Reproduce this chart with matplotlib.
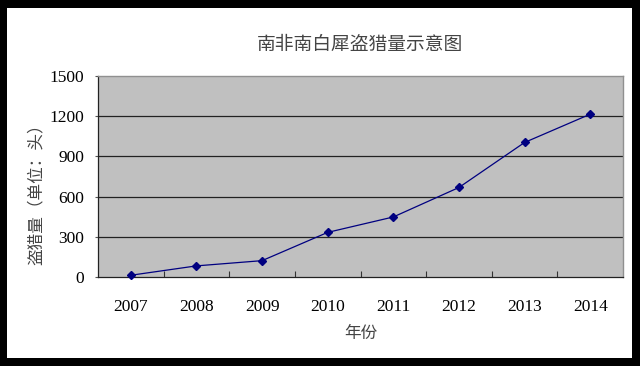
import matplotlib
matplotlib.use("Agg")
import matplotlib.pyplot as plt
from matplotlib.patches import Rectangle

years = ["2007", "2008", "2009", "2010", "2011", "2012", "2013", "2014"]
poached = [13, 83, 122, 333, 448, 668, 1004, 1215]
yticks = [0, 300, 600, 900, 1200, 1500]

W, H = 640, 366
fig = plt.figure(figsize=(W / 100, H / 100), dpi=100)
fig.patch.set_facecolor("black")
fig.patches.append(Rectangle((7 / W, 8 / H), (632 - 7) / W, (358 - 8) / H,
                             transform=fig.transFigure, facecolor="white",
                             edgecolor="none", zorder=-5))

left, right, top, bottom = 98, 623, 76, 277
ax = fig.add_axes([left / W, 1 - bottom / H, (right - left) / W, (bottom - top) / H])
ax.set_zorder(2)
ax.set_facecolor("#C0C0C0")

x = list(range(len(years)))
ax.plot(x, poached, color="#000080", lw=0.9, marker="D", ms=4.5,
        markerfacecolor="#000080", markeredgecolor="#000080", zorder=3, clip_on=False)

ax.set_xlim(-0.5, len(years) - 0.5)
ax.set_ylim(0, 1500)
ax.set_yticks(yticks)
ax.set_yticklabels([str(v) for v in yticks], family="Liberation Serif", fontsize=12.5)
for v in yticks[1:-1]:
    ax.axhline(v, color="#222222", lw=0.9, zorder=1)

ax.set_xticks([i + 0.5 for i in range(len(years) - 1)])
ax.set_xticklabels([])
ax.set_xticks(x, minor=True)
ax.set_xticklabels(years, minor=True, family="Liberation Serif", fontsize=12.5)
ax.tick_params(axis="x", which="minor", length=0, pad=16)
ax.tick_params(axis="x", which="major", length=4, direction="in", width=0.8, color="#333333")
ax.tick_params(axis="y", length=2, direction="out", width=0.8, pad=8, color="#555555")

for s in ["top", "right"]:
    ax.spines[s].set_color("#909090")
    ax.spines[s].set_linewidth(1.0)
for s in ["left", "bottom"]:
    ax.spines[s].set_color("#222222")
    ax.spines[s].set_linewidth(0.9)

cjk = ["Noto Sans CJK SC", "DejaVu Sans"]
fig.text((left + right) / 2 / W, 1 - 44 / H, "南非南白犀盗猎量示意图",
         ha="center", va="center", fontsize=13.5, family=cjk, color="#444444", fontweight="light")
fig.text((left + right) / 2 / W, 1 - 333 / H, "年份",
         ha="center", va="center", fontsize=12, family=cjk, color="#444444", fontweight="light")
fig.text(36 / W, 1 - 190 / H, "盗猎量（单位：头）", rotation=90,
         ha="center", va="center", fontsize=12, family=cjk, color="#444444", fontweight="light")

fig.savefig("out.png", dpi=100, facecolor=fig.get_facecolor())
